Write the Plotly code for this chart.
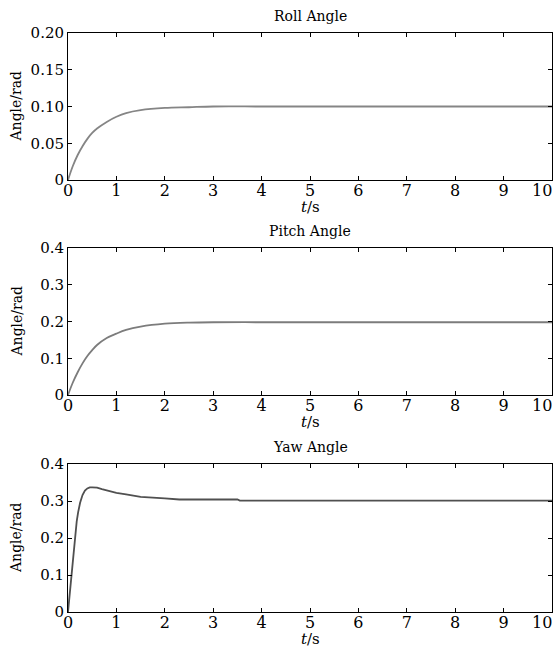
import plotly.graph_objects as go

# ---- data ----
roll_t = [0, 0.1, 0.2, 0.3, 0.4, 0.5, 0.6, 0.8, 1.0, 1.2, 1.5, 2.0, 2.5, 3.0, 4.0, 5.0, 6.0, 7.0, 8.0, 9.0, 10.0]
roll_y = [0, 0.019, 0.034, 0.046, 0.056, 0.064, 0.070, 0.079, 0.086, 0.091, 0.095, 0.098, 0.099, 0.100, 0.100, 0.100, 0.100, 0.100, 0.100, 0.100, 0.100]

pitch_t = [0, 0.1, 0.2, 0.3, 0.4, 0.5, 0.6, 0.8, 1.0, 1.2, 1.5, 2.0, 2.5, 3.0, 4.0, 5.0, 6.0, 7.0, 8.0, 9.0, 10.0]
pitch_y = [0, 0.034, 0.062, 0.086, 0.106, 0.122, 0.136, 0.155, 0.167, 0.177, 0.186, 0.194, 0.197, 0.198, 0.198, 0.198, 0.198, 0.198, 0.198, 0.198, 0.198]

yaw_t = [0, 0.03, 0.06, 0.09, 0.12, 0.15, 0.18, 0.21, 0.25, 0.3, 0.35, 0.4, 0.45, 0.5, 0.6, 0.7, 0.8, 1.0, 1.2, 1.5, 2.0, 2.3, 3.5, 3.55, 5.0, 7.0, 10.0]
yaw_y = [0, 0.04, 0.09, 0.14, 0.18, 0.215, 0.245, 0.27, 0.295, 0.316, 0.328, 0.334, 0.337, 0.337, 0.336, 0.332, 0.328, 0.322, 0.318, 0.311, 0.307, 0.304, 0.304, 0.301, 0.301, 0.301, 0.301]

titles = ["Roll Angle", "Pitch Angle", "Yaw Angle"]
x_ticks = [0, 1, 2, 3, 4, 5, 6, 7, 8, 9, 10]
x_ticklabels = ["0", "1", "2", "3", "4", "5", "6", "7", "8", "9", "10"]
y_ticks = [
    [0, 0.05, 0.10, 0.15, 0.20],
    [0, 0.1, 0.2, 0.3, 0.4],
    [0, 0.1, 0.2, 0.3, 0.4],
]
y_ticklabels = [
    ["0", "0.05", "0.10", "0.15", "0.20"],
    ["0", "0.1", "0.2", "0.3", "0.4"],
    ["0", "0.1", "0.2", "0.3", "0.4"],
]
y_ranges = [[0, 0.20], [0, 0.4], [0, 0.4]]

# page body margin is removed (post_script below), so figure pixels == page pixels
W, H = 553, 649
x0px, x1px = 68, 552
panels_px = [(33, 180), (248, 395), (464, 612)]

series = [(roll_t, roll_y, "#858585", "spline"), (pitch_t, pitch_y, "#7c7c7c", "spline"), (yaw_t, yaw_y, "#505050", "linear")]

fig = go.Figure()
num_font = "DejaVu Serif"
title_font = "DejaVu Serif"

annotations = []
for i, ((top, bot), (tx, ty, col, shp)) in enumerate(zip(panels_px, series)):
    n = "" if i == 0 else str(i + 1)
    fig.add_trace(go.Scatter(x=tx, y=ty, mode="lines", line=dict(color=col, width=1.8, shape=shp),
                             xaxis="x" + n, yaxis="y" + n, showlegend=False, cliponaxis=True))
    xd = [x0px / W, x1px / W]
    yd = [1 - bot / H, 1 - top / H]
    common = dict(showline=True, linecolor="black", linewidth=1, mirror="ticks", ticks="inside", ticklen=4,
                  tickcolor="black", showgrid=False, zeroline=False, automargin=False)
    # the last label ("10") sits against the page edge, so it is drawn as a right-anchored text at x=10
    shown = x_ticklabels[:-1] + [""]
    fig.layout["xaxis" + n] = dict(domain=xd, range=[0, 10], tickvals=x_ticks, ticktext=shown,
                                   anchor="y" + n, tickfont=dict(family=num_font, size=16, color="black"),
                                   ticklabelstandoff=-4, **common)
    fig.layout["yaxis" + n] = dict(domain=yd, range=y_ranges[i], tickvals=y_ticks[i], ticktext=y_ticklabels[i],
                                   anchor="x" + n, tickfont=dict(family=num_font, size=15, color="black"), **common)
    annotations.append(dict(text=x_ticklabels[-1], x=x_ticks[-1], xref="x" + n, y=1 - (bot + 10) / H, yref="paper",
                            showarrow=False, font=dict(family=num_font, size=16, color="black"),
                            xanchor="right", yanchor="middle", xshift=2))
    # panel title
    annotations.append(dict(text=titles[i], x=(x0px + x1px) / 2 / W, y=1 - (top - 17) / H, xref="paper", yref="paper",
                            showarrow=False, font=dict(family=title_font, size=14, color="black"), xanchor="center", yanchor="middle"))
    # x-axis title
    annotations.append(dict(text="<i>t</i>/s", x=(x0px + x1px) / 2 / W, y=1 - (bot + 27) / H, xref="paper", yref="paper",
                            showarrow=False, font=dict(family=num_font, size=15, color="black"), xanchor="center", yanchor="middle"))
    # y-axis title
    annotations.append(dict(text="Angle/rad", x=16 / W, y=1 - (top + bot) / 2 / H, xref="paper", yref="paper",
                            showarrow=False, textangle=-90, font=dict(family=title_font, size=14, color="black"),
                            xanchor="center", yanchor="middle"))

fig.update_layout(width=W, height=H, margin=dict(l=0, r=0, t=0, b=0, pad=0, autoexpand=False),
                  plot_bgcolor="white", paper_bgcolor="white", annotations=annotations, hovermode=False)
fig.write_html("out.html", config={"displayModeBar": False, "staticPlot": True},
               post_script="document.body.style.margin='0';document.documentElement.style.overflow='hidden';"
                           "document.body.style.overflow='hidden';")
